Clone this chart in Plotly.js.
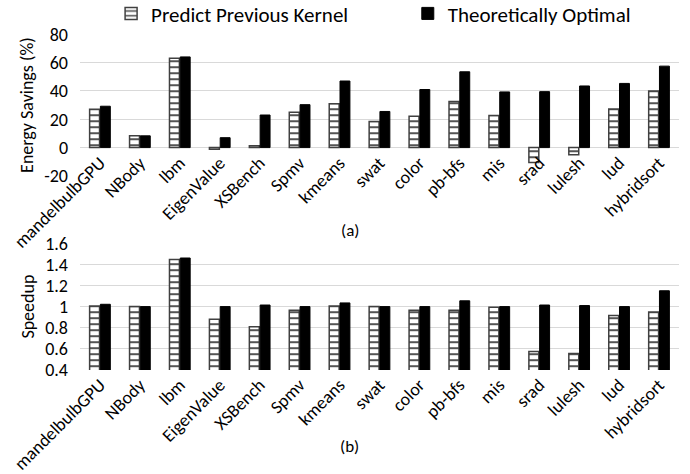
<!DOCTYPE html>
<html>
<head>
<meta charset="utf-8">
<script src="https://cdn.plot.ly/plotly-3.0.1.min.js"></script>
<style>html,body{margin:0;padding:0;background:#fff;}</style>
</head>
<body>
<div id="chart" style="width:690px;height:474px;"></div>
<script>
const categories = ["mandelbulbGPU","NBody","lbm","EigenValue","XSBench","Spmv","kmeans","swat","color","pb-bfs","mis","srad","lulesh","lud","hybridsort"];
const energyPredict = [27, 8.3, 63, -1.2, 1.3, 25, 31, 18.5, 22.2, 32.5, 22.7, -10.5, -5, 27.3, 40];
const energyOptimal = [29.2, 8.3, 64, 7, 23, 30.3, 47, 25.5, 41, 53.5, 39.3, 39.5, 43.5, 45.3, 57.5];
const speedupPredict = [1.005, 1.0, 1.445, 0.88, 0.81, 0.965, 1.005, 1.0, 0.965, 0.965, 0.995, 0.575, 0.555, 0.915, 0.95];
const speedupOptimal = [1.022, 1.0, 1.46, 1.0, 1.015, 1.0, 1.035, 1.0, 1.0, 1.055, 1.0, 1.015, 1.01, 1.0, 1.15];
const seriesNames = ["Predict Previous Kernel", "Theoretically Optimal"];
const energyTicks = [-20, 0, 20, 40, 60, 80];
const energyTickText = ["-20", "0", "20", "40", "60", "80"];
const speedupTicks = [0.4, 0.6, 0.8, 1, 1.2, 1.4, 1.6];
const speedupTickText = ["0.4", "0.6", "0.8", "1", "1.2", "1.4", "1.6"];

const FONT = "Carlito, Calibri, Lato, sans-serif";
const patMarker = {color: "#ffffff", line: {color: "#404040", width: 1.5},
  pattern: {shape: "-", fgcolor: "#404040", bgcolor: "#ffffff", size: 6, solidity: 0.3}};
const blkMarker = {color: "#000000", line: {color: "#000000", width: 1}};

const data = [
  {type: "bar", name: seriesNames[0], x: categories, y: energyPredict, xaxis: "x", yaxis: "y", marker: patMarker, legend: "legend"},
  {type: "bar", name: seriesNames[1], x: categories, y: energyOptimal, xaxis: "x", yaxis: "y", marker: blkMarker, legend: "legend2"},
  {type: "bar", name: seriesNames[0], x: categories, y: speedupPredict, xaxis: "x2", yaxis: "y2", marker: patMarker, showlegend: false},
  {type: "bar", name: seriesNames[1], x: categories, y: speedupOptimal, xaxis: "x2", yaxis: "y2", marker: blkMarker, showlegend: false}
];

const tickFont = {family: FONT, size: 18, color: "#000"};
const legendBase = {orientation: "h", xref: "container", yref: "container", xanchor: "left",
  y: 0.971, yanchor: "middle",
  font: {family: FONT, size: 21, color: "#000"}, itemwidth: 30, tracegroupgap: 0,
  bgcolor: "rgba(0,0,0,0)", borderwidth: 0};
const layout = {
  width: 690, height: 474,
  margin: {l: 80, r: 11, t: 31, b: 104},
  paper_bgcolor: "#fff", plot_bgcolor: "#fff",
  font: {family: FONT, size: 18, color: "#000"},
  barmode: "group", bargap: 0.46, bargroupgap: 0.08,
  showlegend: true,
  legend: Object.assign({}, legendBase, {x: 0.161}),
  legend2: Object.assign({}, legendBase, {x: 0.591}),
  xaxis: {anchor: "free", position: 0.661, domain: [0, 1], tickangle: -45, tickfont: tickFont,
    showgrid: false, showline: false, zeroline: false, ticks: "", automargin: false},
  yaxis: {domain: [0.578, 1], range: [-20, 80], tickmode: "array", tickvals: energyTicks, ticktext: energyTickText,
    tickfont: tickFont, gridcolor: "#d9d9d9", gridwidth: 1, zeroline: false, showline: false, ticks: "",
    ticklabelstandoff: 11, automargin: false,
    title: {text: "Energy Savings (%)", font: {family: FONT, size: 18, color: "#000"}, standoff: 5}},
  xaxis2: {anchor: "y2", domain: [0, 1], tickangle: -45, tickfont: tickFont,
    showgrid: false, showline: false, zeroline: false, ticks: "", automargin: false},
  yaxis2: {domain: [0, 0.3776], range: [0.4, 1.6], tickmode: "array", tickvals: speedupTicks, ticktext: speedupTickText,
    tickfont: tickFont, gridcolor: "#d9d9d9", gridwidth: 1, zeroline: false, showline: false, ticks: "",
    ticklabelstandoff: 11, automargin: false,
    title: {text: "Speedup", font: {family: FONT, size: 18, color: "#000"}, standoff: 5}},
  annotations: [
    {text: "(a)", xref: "paper", yref: "paper", x: 0.45, y: 0.416, showarrow: false, font: {family: FONT, size: 17, color: "#000"}},
    {text: "(b)", xref: "paper", yref: "paper", x: 0.45, y: -0.2655, showarrow: false, font: {family: FONT, size: 17, color: "#000"}}
  ]
};

Plotly.newPlot("chart", data, layout, {displayModeBar: false, staticPlot: true});
</script>
</body>
</html>
